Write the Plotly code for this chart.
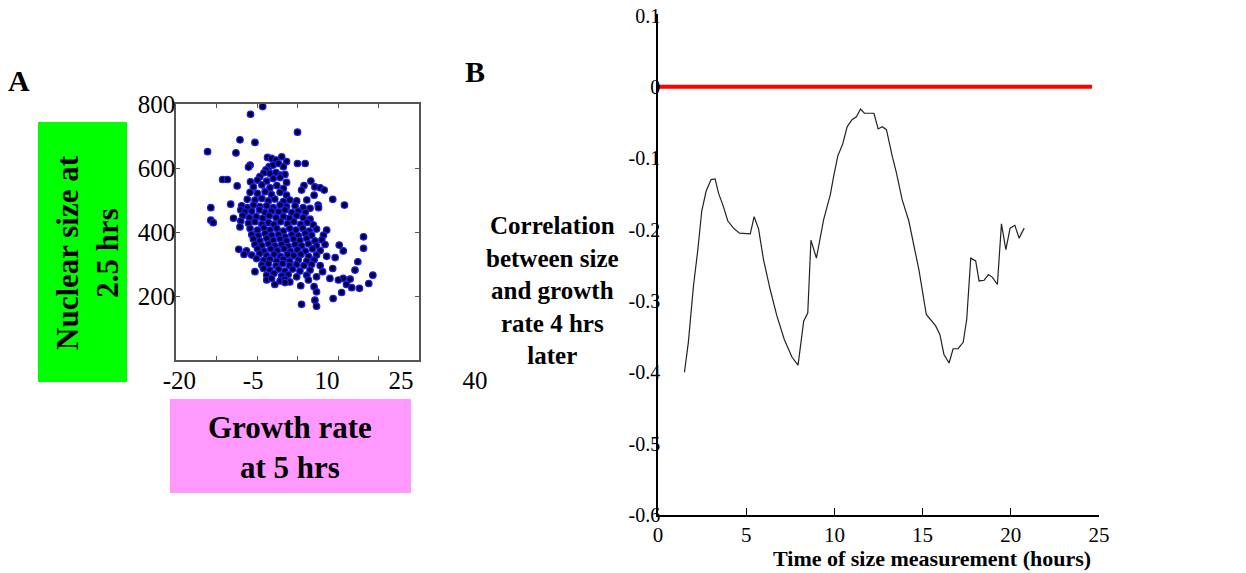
import plotly.graph_objects as go

# ---------------- Panel A data ----------------
growth_rate = [
    1.4, -1.6, 10.0, -4.2, -0.5, -12.2, -5.2,
    2.6, 3.6, 4.7, 6.1, 7.3, 10.0, 11.9,
    3.0, 4.0, 5.3, 6.5, 2.2, -1.7, -2.1,
    1.7, 3.2, 4.7, 5.8, 0.7, 6.9,
    -8.5, -7.3, -1.6, 0.1, 2.4, 4.0, 5.7, 7.3, 13.3,
    -4.9, -0.9, 1.2, 3.2, 4.9, 6.5, 11.6, 14.3, 15.6,
    -1.7, 0.1, 2.0, 3.6, 5.7, 7.3, 11.0, 14.1, 16.6,
    -2.4, -0.5, 1.2, 2.8, 4.4, 6.5, 8.1, 9.8, 12.3, 15.1, 18.7,
    -11.4, -6.5, -3.8, -2.4, -0.9, 0.7, 2.4, 4.0, 5.7, 7.3, 9.4, 11.4, 13.1, 15.2, 21.6,
    -4.0, -3.0, -1.3, 0.6, 2.0, 3.6, 5.3, 6.9, 8.6, 10.2, 11.9,
    -5.8, -3.5, -1.9, -0.2, 1.4, 3.0, 4.7, 6.5, 8.0, 9.8, 11.4, 13.1,
    -11.4, -10.8, -4.0, -2.1, -0.5, 1.2, 2.8, 4.2, 5.8, 7.5, 9.1, 10.8, 12.4, 13.9,
    -4.2, -1.7, 0.1, 1.7, 3.2, 4.9, 6.5, 8.1, 9.6, 11.3, 12.9, 14.7, 17.2,
    -1.3, 0.3, 2.0, 3.6, 5.3, 6.9, 8.6, 10.2, 11.9, 13.5, 16.4, 26.3,
    -0.9, 0.7, 2.4, 4.0, 5.7, 7.3, 9.0, 10.6, 12.3, 14.3, 16.0,
    -0.5, 1.2, 2.8, 4.4, 6.1, 7.7, 9.4, 11.0, 12.7, 14.7, 16.8, 20.3,
    -4.5, -2.6, 0.1, 1.7, 3.4, 5.0, 6.7, 8.3, 10.0, 11.9, 13.7, 15.6, 21.3, 26.3,
    -3.2, -1.3, 0.6, 2.4, 4.2, 5.8, 7.5, 9.1, 10.8, 12.7, 14.7, 17.2,
    -0.1, 1.6, 3.2, 4.9, 6.5, 8.1, 10.2, 12.3, 14.1, 19.3, 24.9,
    1.2, 2.8, 4.7, 6.3, 8.0, 9.8, 11.6, 13.5, 15.6,
    -0.5, 1.6, 3.2, 5.3, 6.9, 8.8, 10.6, 13.1, 16.2, 18.7, 24.2,
    2.4, 4.2, 6.1, 7.7, 9.8, 12.3, 14.7, 21.3, 28.6,
    2.4, 3.6, 5.7, 6.9, 8.1, 12.7, 18.0, 20.1, 23.0,
    4.4, 6.9, 10.8, 14.1, 22.1, 23.4, 25.3, 27.6,
    14.7, 20.9, 18.8, 11.0, 14.3, 14.7,
]
nuclear_size = [
    792, 768, 712, 688, 680, 651, 647,
    633, 630, 625, 635, 620, 614, 614,
    604, 609, 614, 604, 594, 609, 603,
    585, 583, 586, 578, 573, 580,
    564, 564, 557, 562, 559, 567, 570, 555, 559,
    544, 541, 547, 538, 545, 536, 545, 541, 538,
    524, 521, 526, 517, 524, 515, 531, 515, 531,
    502, 500, 505, 497, 503, 495, 500, 497, 500, 484, 502,
    476, 487, 482, 476, 484, 479, 482, 476, 484, 479, 482, 476, 474, 476, 484,
    469, 463, 465, 469, 461, 465, 463, 469, 461, 465, 461,
    443, 451, 445, 448, 443, 451, 445, 448, 443, 451, 445, 440,
    437, 429, 434, 427, 432, 424, 430, 424, 432, 426, 432, 424, 430, 422,
    416, 411, 406, 413, 406, 411, 403, 411, 406, 411, 403, 409, 406,
    392, 388, 396, 390, 392, 385, 392, 388, 396, 390, 390, 385,
    378, 372, 380, 374, 378, 372, 378, 374, 380, 372, 375,
    361, 357, 363, 357, 361, 355, 361, 357, 363, 357, 361, 359,
    346, 341, 347, 340, 347, 342, 347, 340, 345, 340, 347, 342, 341, 349,
    330, 328, 332, 326, 330, 324, 330, 326, 330, 324, 328, 324,
    317, 311, 315, 309, 315, 309, 313, 309, 313, 320, 307,
    297, 301, 295, 301, 295, 299, 295, 299, 295,
    276, 286, 281, 284, 278, 284, 278, 281, 276, 286, 281,
    265, 271, 263, 267, 260, 265, 260, 255, 265,
    250, 255, 247, 253, 244, 250, 255, 250, 253,
    236, 242, 232, 229, 236, 226, 224, 239,
    213, 211, 192, 174, 187, 168,
]
a_xticks = [-20, -10, 0, 10, 20, 30, 40]
a_xlabel_vals = [-20, -5, 10, 25, 40]
a_xlabel_text = ["-20", "-5", "10", "25", "40"]
a_yticks = [200, 400, 600, 800]

# ---------------- Panel B data ----------------
time_hours = [1.50, 1.72, 2.01, 2.25, 2.48, 2.73, 3.01, 3.15, 3.24, 3.43,
              3.67, 3.96, 4.28, 4.62, 5.23, 5.45, 5.70, 5.98, 6.36, 6.74,
              7.16, 7.60, 7.94, 8.26, 8.49, 8.67, 8.98, 9.39, 9.77, 9.96,
              10.19, 10.47, 10.72, 11.00, 11.25, 11.48, 11.70, 12.24, 12.48, 12.71,
              12.95, 13.28, 13.52, 13.84, 14.22, 14.51, 14.79, 15.21, 15.74, 15.98,
              16.21, 16.50, 16.73, 17.01, 17.30, 17.50, 17.73, 18.01, 18.20, 18.49,
              18.73, 18.96, 19.24, 19.47, 19.72, 19.96, 20.23, 20.47, 20.76]
correlation = [-0.400, -0.358, -0.279, -0.230, -0.174, -0.146, -0.130, -0.129, -0.129, -0.149,
               -0.165, -0.188, -0.198, -0.205, -0.206, -0.182, -0.199, -0.242, -0.284, -0.321,
               -0.354, -0.379, -0.390, -0.328, -0.317, -0.215, -0.240, -0.186, -0.151, -0.125,
               -0.097, -0.080, -0.056, -0.046, -0.042, -0.031, -0.037, -0.037, -0.059, -0.056,
               -0.060, -0.097, -0.121, -0.158, -0.188, -0.223, -0.256, -0.319, -0.335, -0.347,
               -0.375, -0.387, -0.367, -0.367, -0.358, -0.326, -0.240, -0.244, -0.272, -0.271,
               -0.263, -0.267, -0.277, -0.192, -0.228, -0.198, -0.194, -0.212, -0.198]
zero_ref_x = [0, 24.6]
zero_ref_y = [0, 0]
b_xticks = [0, 5, 10, 15, 20, 25]
b_yticks = [0.1, 0, -0.1, -0.2, -0.3, -0.4, -0.5, -0.6]
b_ylabels = ["0.1", "0", "-0.1", "-0.2", "-0.3", "-0.4", "-0.5", "-0.6"]

W, H = 1246, 573
SERIF = "Liberation Serif, Times New Roman, serif"


def px(x):
    return x / W


def py(y):
    return 1 - y / H


fig = go.Figure()
fig.add_trace(go.Scatter(
    x=growth_rate, y=nuclear_size, mode="markers", xaxis="x", yaxis="y",
    marker=dict(size=6.5, color="#00002a", line=dict(color="#1a1aff", width=1.2)),
    showlegend=False, hoverinfo="skip"))
fig.add_trace(go.Scatter(x=[], y=[], xaxis="x3", yaxis="y3", showlegend=False))
fig.add_trace(go.Scatter(
    x=zero_ref_x, y=zero_ref_y, mode="lines", xaxis="x2", yaxis="y2",
    line=dict(color="#ff0000", width=4), showlegend=False, hoverinfo="skip"))
fig.add_trace(go.Scatter(
    x=time_hours, y=correlation, mode="lines", xaxis="x2", yaxis="y2",
    line=dict(color="#222222", width=1.2), showlegend=False, hoverinfo="skip"))

tickfontA = dict(family=SERIF, size=25, color="black")
tickfontB = dict(family=SERIF, size=21, color="black")

fig.update_layout(
    width=W, height=H, autosize=False, template="none",
    margin=dict(l=0, r=0, t=0, b=0, pad=0),
    paper_bgcolor="white", plot_bgcolor="rgba(0,0,0,0)",
    xaxis=dict(domain=[px(176), px(419)], range=[-20, 40], anchor="y",
               showline=True, mirror="ticks", linecolor="#555", linewidth=1.5,
               ticks="inside", ticklen=4, tickcolor="#555", tickvals=a_xticks,
               showticklabels=False, showgrid=False, zeroline=False, automargin=False),
    yaxis=dict(domain=[py(360), py(104)], range=[0, 800], anchor="x",
               showline=True, mirror="ticks", linecolor="#555", linewidth=1.5,
               ticks="inside", ticklen=4, tickcolor="#555", tickvals=a_yticks,
               tickfont=tickfontA, ticklabelstandoff=-6,
               showgrid=False, zeroline=False, automargin=False),
    xaxis3=dict(domain=[px(179.3), px(474.9)], range=[-20, 40], anchor="y3",
                showline=False, ticks="", tickvals=a_xlabel_vals, ticktext=a_xlabel_text,
                tickfont=tickfontA, ticklabelstandoff=3,
                showgrid=False, zeroline=False, automargin=False),
    yaxis3=dict(domain=[py(360), py(104)], range=[0, 800], anchor="x3",
                visible=False, showgrid=False, zeroline=False),
    xaxis2=dict(domain=[px(658), px(1099)], range=[0, 25], anchor="y2",
                showline=True, mirror=False, linecolor="#000000", linewidth=1.5,
                ticks="inside", ticklen=7, tickwidth=1.2, tickcolor="#000000",
                tickvals=b_xticks, tickfont=tickfontB,
                showgrid=False, zeroline=False, automargin=False),
    yaxis2=dict(domain=[py(515), py(14)], range=[-0.6, 0.1 + 0.1 * 1.5 / 71.5], anchor="x2",
                showline=True, mirror=False, linecolor="#000000", linewidth=1.5,
                ticks="", tickvals=b_yticks, ticktext=b_ylabels,
                tickfont=dict(family=SERIF, size=20, color="black"), ticklabelstandoff=-8,
                showgrid=False, zeroline=False, automargin=False),
    shapes=[
        dict(type="rect", xref="paper", yref="paper", x0=px(38), x1=px(127),
             y0=py(382), y1=py(122), fillcolor="#00ff00", line=dict(width=0), layer="below"),
        dict(type="rect", xref="paper", yref="paper", x0=px(170), x1=px(411),
             y0=py(493), y1=py(399), fillcolor="#ff99ff", line=dict(width=0), layer="below"),
    ],
)

bold = dict(family=SERIF, color="black")
annotations = [
    dict(text="<b>A</b>", x=px(19), y=py(80), font=dict(size=30, **bold)),
    dict(text="<b>B</b>", x=px(474.5), y=py(71), font=dict(size=30, **bold)),
    dict(text="<b>Nuclear size at<br>2.5 hrs</b>", x=px(87), y=py(252), textangle=-90,
         font=dict(size=31, **bold)),
    dict(text="<b>Growth rate<br>at 5 hrs</b>", x=px(290), y=py(447),
         font=dict(size=31, **bold)),
    dict(text="<b>Correlation<br>between size<br>and growth<br>rate 4 hrs<br>later</b>",
         x=px(552), y=py(290), font=dict(size=25, **bold)),
    dict(text="<b>Time of size measurement (hours)</b>", x=px(932), y=py(558),
         font=dict(size=22, **bold)),
]
for a in annotations:
    a.update(xref="paper", yref="paper", xanchor="center", yanchor="middle",
             showarrow=False, align="center")
fig.update_layout(annotations=annotations)

fig.write_html("out.html")
